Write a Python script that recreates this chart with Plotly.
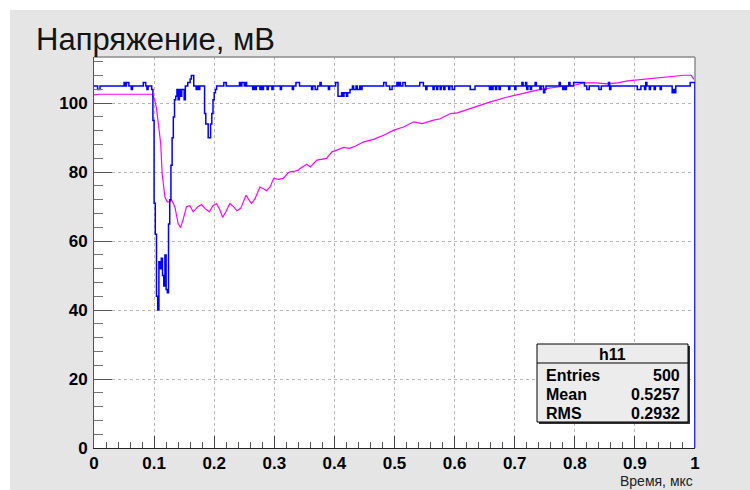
import plotly.graph_objects as go

# ---- data -------------------------------------------------------------
# Blue histogram (h11): left edge of each run of equal bins and its level
blue_edges = [
    0.000, 0.006, 0.010, 0.050, 0.052, 0.054, 0.058, 0.062, 0.064, 0.082, 0.086, 0.088, 0.090, 0.096,
    0.098, 0.100, 0.102, 0.104, 0.106, 0.108, 0.110, 0.112, 0.114, 0.116, 0.118, 0.120, 0.122, 0.124,
    0.126, 0.128, 0.130, 0.132, 0.134, 0.136, 0.138, 0.140, 0.142, 0.144, 0.146, 0.150, 0.152, 0.156,
    0.160, 0.162, 0.166, 0.170, 0.172, 0.174, 0.176, 0.184, 0.186, 0.190, 0.194, 0.196, 0.198, 0.200,
    0.202, 0.204, 0.216, 0.220, 0.242, 0.244, 0.246, 0.250, 0.252, 0.254, 0.264, 0.266, 0.268, 0.270,
    0.276, 0.278, 0.280, 0.282, 0.288, 0.290, 0.296, 0.298, 0.310, 0.312, 0.330, 0.332, 0.336, 0.342,
    0.362, 0.364, 0.368, 0.372, 0.376, 0.378, 0.390, 0.392, 0.402, 0.406, 0.412, 0.414, 0.416, 0.420,
    0.422, 0.426, 0.430, 0.432, 0.436, 0.438, 0.442, 0.444, 0.446, 0.482, 0.486, 0.492, 0.496, 0.504,
    0.506, 0.508, 0.510, 0.514, 0.518, 0.542, 0.548, 0.552, 0.554, 0.564, 0.566, 0.570, 0.572, 0.576,
    0.578, 0.582, 0.584, 0.590, 0.592, 0.596, 0.600, 0.626, 0.634, 0.658, 0.660, 0.662, 0.664, 0.668,
    0.670, 0.674, 0.676, 0.690, 0.692, 0.700, 0.702, 0.712, 0.714, 0.718, 0.720, 0.722, 0.726, 0.728,
    0.734, 0.736, 0.742, 0.744, 0.748, 0.750, 0.752, 0.774, 0.776, 0.780, 0.782, 0.784, 0.786, 0.790,
    0.792, 0.798, 0.816, 0.820, 0.824, 0.840, 0.844, 0.856, 0.858, 0.860, 0.904, 0.910, 0.916, 0.918,
    0.920, 0.924, 0.926, 0.932, 0.934, 0.942, 0.944, 0.962, 0.964, 0.966, 0.968, 0.992,
]
blue_levels = [
    105, 104, 105, 106, 105, 106, 105, 104, 105, 106, 105, 104, 105, 104,
    95, 71, 62, 44, 40, 54, 52, 55, 50, 47, 56, 46, 45, 65,
    72, 82, 90, 96, 101, 102, 104, 101, 104, 102, 104, 101, 105, 106,
    107, 108, 105, 104, 105, 104, 105, 97, 94, 90, 94, 97, 101, 103,
    104, 105, 106, 105, 106, 105, 106, 105, 106, 105, 104, 105, 104, 105,
    104, 105, 104, 105, 104, 105, 104, 105, 104, 105, 104, 105, 106, 105,
    104, 105, 104, 105, 106, 105, 104, 105, 106, 102, 103, 102, 103, 102,
    103, 104, 105, 104, 105, 104, 105, 104, 105, 106, 105, 104, 105, 106,
    105, 106, 105, 106, 105, 106, 105, 104, 105, 104, 105, 104, 105, 104,
    105, 104, 105, 104, 105, 104, 105, 104, 105, 104, 105, 104, 105, 104,
    105, 104, 105, 104, 105, 104, 105, 106, 105, 106, 104, 105, 104, 105,
    106, 105, 104, 105, 103, 104, 105, 106, 105, 104, 105, 104, 105, 106,
    105, 106, 105, 104, 105, 104, 105, 106, 104, 105, 104, 105, 104, 106,
    105, 104, 105, 104, 105, 104, 105, 103, 104, 103, 105, 106,
]

# Magenta trace
mag_x = [
    0.000, 0.010, 0.097, 0.099, 0.101, 0.104, 0.1067, 0.1095, 0.111, 0.1134, 0.116, 0.118, 0.1217,
    0.126, 0.129, 0.1345, 0.140, 0.144, 0.148, 0.154, 0.1595, 0.165, 0.173, 0.179, 0.1845, 0.192,
    0.198, 0.204, 0.2095, 0.214, 0.2195, 0.226, 0.232, 0.238, 0.244, 0.253, 0.258, 0.262, 0.268,
    0.276, 0.282, 0.287, 0.293, 0.299, 0.307, 0.315, 0.322, 0.326, 0.332, 0.340, 0.343, 0.354,
    0.360, 0.371, 0.387, 0.396, 0.404, 0.415, 0.425, 0.4345, 0.449, 0.465, 0.482, 0.499, 0.515,
    0.532, 0.546, 0.555, 0.565, 0.576, 0.593, 0.6045, 0.632, 0.6595, 0.688, 0.7155, 0.743, 0.771,
    0.799, 0.815, 0.835, 0.854, 0.871, 0.888, 0.910, 0.9375, 0.965, 0.982, 0.994, 0.998,
]
mag_y = [
    102.4, 102.6, 102.6, 102.0, 101.0, 98.5, 95.1, 91.3, 88.3, 79.6, 75.7, 72.8, 71.4,
    71.4, 71.9, 70.0, 65.1, 63.9, 66.1, 70.0, 70.3, 68.5, 70.0, 70.6, 69.5, 68.5,
    70.3, 70.9, 69.0, 66.9, 68.5, 70.9, 70.0, 68.8, 69.5, 73.3, 71.9, 70.9, 72.3,
    75.7, 75.2, 74.6, 75.7, 78.2, 77.9, 78.2, 79.6, 80.1, 80.2, 80.6, 81.1, 82.3,
    81.5, 83.5, 84.0, 85.9, 86.4, 87.2, 86.9, 87.5, 88.8, 89.5, 90.7, 92.2, 93.1,
    94.6, 94.1, 94.6, 95.1, 95.5, 97.0, 97.2, 98.9, 100.4, 101.8, 103.0, 104.0, 104.7,
    105.2, 105.9, 105.9, 105.6, 105.9, 106.5, 106.9, 107.2, 107.7, 108.1, 108.1, 106.9,
]

x_ticks = [0, 0.1, 0.2, 0.3, 0.4, 0.5, 0.6, 0.7, 0.8, 0.9, 1.0]
x_labels = ["0", "0.1", "0.2", "0.3", "0.4", "0.5", "0.6", "0.7", "0.8", "0.9", "1"]
y_ticks = [0, 20, 40, 60, 80, 100]
y_labels = ["0", "20", "40", "60", "80", "100"]

stats_rows = [("Entries", "500"), ("Mean", "0.5257"), ("RMS", "0.2932")]
hist_name = "h11"

# ---- layout helpers (pixel -> paper fraction) ---------------------------
W, H = 750, 490
L, R, T, B = 94, 695, 57, 448


def px(x):
    return (x - L) / (R - L)


def py(y):
    return (B - y) / (B - T)


fig = go.Figure()

fig.add_trace(go.Scatter(
    x=mag_x, y=mag_y, mode="lines",
    line=dict(color="#ff00ff", width=1.2),
    hoverinfo="skip",
))

bx = blue_edges + [1.0, 1.0]
by = blue_levels + [blue_levels[-1], 0]
fig.add_trace(go.Scatter(
    x=bx, y=by, mode="lines", line_shape="hv",
    line=dict(color="#0000ff", width=1.5),
    hoverinfo="skip",
))

tick_font = dict(family="Liberation Sans", size=17, color="black", weight="bold")

fig.update_layout(
    width=W, height=H,
    margin=dict(l=L, r=W - R, t=T, b=H - B, pad=0),
    paper_bgcolor="#e5e5e5",
    plot_bgcolor="white",
    showlegend=False,
    xaxis=dict(
        range=[0, 1], tickmode="array", tickvals=x_ticks, ticktext=x_labels,
        ticks="inside", ticklen=12, tickcolor="#444", tickwidth=1,
        minor=dict(ticks="inside", ticklen=6, dtick=0.02, tick0=0, tickcolor="#555", showgrid=False),
        showgrid=True, gridcolor="#b8b8b8", griddash="dot", gridwidth=1,
        zeroline=False, showline=True, linecolor="#222", linewidth=1,
        tickfont=tick_font,
    ),
    yaxis=dict(
        range=[0, 113.4], tickmode="array", tickvals=y_ticks, ticktext=y_labels,
        ticks="inside", ticklen=18, tickcolor="#555", tickwidth=1,
        minor=dict(ticks="inside", ticklen=9, dtick=4, tick0=0, tickcolor="#777", showgrid=False),
        showgrid=True, gridcolor="#b8b8b8", griddash="dot", gridwidth=1,
        zeroline=False, showline=True, linecolor="#555", linewidth=1,
        tickfont=tick_font, ticklabelstandoff=2,
    ),
)

shapes = []
# white strips along top and left canvas edges
shapes.append(dict(type="rect", xref="paper", yref="paper", x0=px(0), x1=px(W), y0=py(10), y1=py(0),
                   fillcolor="white", line=dict(width=0), layer="above"))
shapes.append(dict(type="rect", xref="paper", yref="paper", x0=px(0), x1=px(10), y0=py(H), y1=py(0),
                   fillcolor="white", line=dict(width=0), layer="above"))
# frame top and right edges
shapes.append(dict(type="line", xref="paper", yref="paper", x0=0, x1=1, y0=1, y1=1,
                   line=dict(color="#8c8c8c", width=1.5)))
shapes.append(dict(type="line", xref="paper", yref="paper", x0=1, x1=1, y0=0, y1=1,
                   line=dict(color="#8c8c8c", width=1.5), layer="below"))

# statistics box with shadow
bx0, bx1, by0, by1 = 537, 688, 344, 422
shapes.append(dict(type="rect", xref="paper", yref="paper",
                   x0=px(bx0 + 2), x1=px(bx1 + 2), y0=py(by1 + 2), y1=py(by0 + 2),
                   fillcolor="#303030", line=dict(width=0), layer="above"))
shapes.append(dict(type="rect", xref="paper", yref="paper",
                   x0=px(bx0), x1=px(bx1), y0=py(by1), y1=py(by0),
                   fillcolor="#ececec", line=dict(color="black", width=1), layer="above"))
shapes.append(dict(type="line", xref="paper", yref="paper",
                   x0=px(bx0), x1=px(bx1), y0=py(363), y1=py(363),
                   line=dict(color="black", width=1), layer="above"))
fig.update_layout(shapes=shapes)

ann = []
ann.append(dict(text="Напряжение, мВ", xref="paper", yref="paper", x=px(34), y=py(39),
                xanchor="left", yanchor="middle", showarrow=False,
                font=dict(family="Liberation Sans", size=31, color="#141414")))
ann.append(dict(text="Время, мкс", xref="paper", yref="paper", x=px(695), y=py(481),
                xanchor="right", yanchor="middle", showarrow=False,
                font=dict(family="Liberation Sans", size=14, color="#222")))
stat_font = dict(family="Liberation Sans", size=16, color="black", weight="bold")
ann.append(dict(text=hist_name, xref="paper", yref="paper", x=px((bx0 + bx1) / 2), y=py(354),
                xanchor="center", yanchor="middle", showarrow=False, font=stat_font))
for i, (name, val) in enumerate(stats_rows):
    yy = 375 + i * 19
    ann.append(dict(text=name, xref="paper", yref="paper", x=px(544), y=py(yy),
                    xanchor="left", yanchor="middle", showarrow=False, font=stat_font))
    ann.append(dict(text=val, xref="paper", yref="paper", x=px(682), y=py(yy),
                    xanchor="right", yanchor="middle", showarrow=False, font=stat_font))
fig.update_layout(annotations=ann)

fig.write_html("out.html")
